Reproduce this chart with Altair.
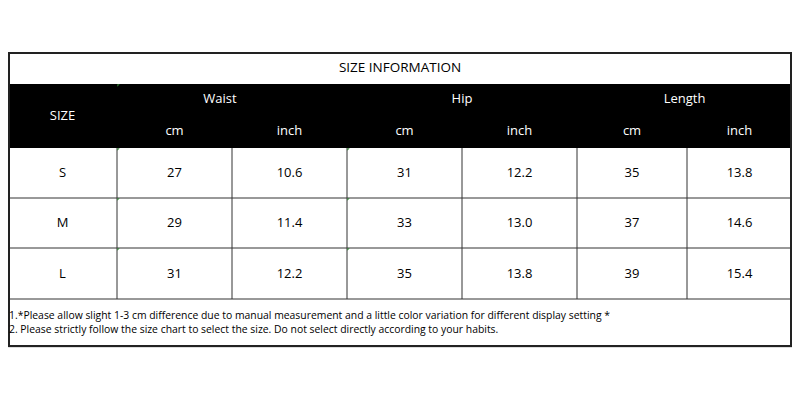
import altair as alt
import pandas as pd

# ---- data ----
sizes = ["S", "M", "L"]
waist_cm = [27, 29, 31]
waist_inch = [10.6, 11.4, 12.2]
hip_cm = [31, 33, 35]
hip_inch = [12.2, 13.0, 13.8]
length_cm = [35, 37, 39]
length_inch = [13.8, 14.6, 15.4]

title_text = "SIZE INFORMATION"
groups = ["Waist", "Hip", "Length"]
units = ["cm", "inch"]
size_label = "SIZE"
notes = [
    "1.*Please allow slight 1-3 cm difference due to manual measurement and a little color variation for different display setting *",
    "2. Please strictly follow the size chart to select the size. Do not select directly according to your habits.",
]

# ---- layout constants (pixels) ----
COL_W = [109, 115, 115, 115, 115, 110, 105]
ROW_H = [32, 64, 50, 50, 51, 48]  # title, header, S, M, L, notes
FONT = "Open Sans"

col_edges = [0]
for w in COL_W:
    col_edges.append(col_edges[-1] + w)
row_edges = [0]
for h in ROW_H:
    row_edges.append(row_edges[-1] + h)
W = col_edges[-1]
H = row_edges[-1]

def cx(c0, c1=None):
    c1 = c0 if c1 is None else c1
    return (col_edges[c0] + col_edges[c1 + 1]) / 2

def cy(r):
    return (row_edges[r] + row_edges[r + 1]) / 2

xs = alt.Scale(domain=[0, W], range=[0, W], nice=False, zero=False)
ys = alt.Scale(domain=[0, H], range=[0, H], nice=False, zero=False)

def X(f="x"):
    return alt.X(f"{f}:Q", scale=xs, axis=None)

def Y(f="y"):
    return alt.Y(f"{f}:Q", scale=ys, axis=None)

# header black band
band = pd.DataFrame([{"x": 0, "x2": W, "y": row_edges[1], "y2": row_edges[2]}])
band_layer = alt.Chart(band).mark_rect(color="black").encode(
    x=X(), x2="x2:Q", y=Y(), y2="y2:Q")

# inner lines
lines = []
for r in [3, 4, 5]:
    lines.append({"x": 0, "x2": W, "y": row_edges[r], "y2": row_edges[r]})
for c in range(1, len(COL_W)):
    lines.append({"x": col_edges[c], "x2": col_edges[c], "y": row_edges[2], "y2": row_edges[5]})
lines_layer = alt.Chart(pd.DataFrame(lines)).mark_rule(color="#333333", strokeWidth=1).encode(
    x=X(), x2="x2:Q", y=Y(), y2="y2:Q")

# outer border
border = pd.DataFrame([{"x": 1, "x2": W - 1, "y": 1, "y2": H - 1}])
border_layer = alt.Chart(border).mark_rect(fill=None, stroke="#222", strokeWidth=2).encode(
    x=X(), x2="x2:Q", y=Y(), y2="y2:Q")

# small green corner ticks
greens = [{"x": col_edges[1] + 1.5, "y": row_edges[1] + 1.5}]
for r in [2, 3, 4]:
    for c in [1, 3]:
        greens.append({"x": col_edges[c] + 1.5, "y": row_edges[r] + 1.5})
green_layer = alt.Chart(pd.DataFrame(greens)).mark_point(
    shape="M-1,-1L1,-1L-1,1Z", filled=True, color="#2f7d32", size=6, opacity=1).encode(x=X(), y=Y())

# texts
texts = []
texts.append({"x": W / 2, "y": cy(0), "t": title_text, "c": "black", "s": 13.5})
header_top = row_edges[1]
for i, g in enumerate(groups):
    gx = cx(1 + 2 * i, 2 + 2 * i) - (12 if i == 0 else 0)
    texts.append({"x": gx, "y": header_top + 15, "t": g, "c": "white", "s": 13})
    for j, u in enumerate(units):
        texts.append({"x": cx(1 + 2 * i + j), "y": header_top + 47, "t": u, "c": "white", "s": 13})
texts.append({"x": cx(0), "y": header_top + 32, "t": size_label, "c": "white", "s": 13})

cols = [waist_cm, waist_inch, hip_cm, hip_inch, length_cm, length_inch]
for r, s in enumerate(sizes):
    texts.append({"x": cx(0), "y": cy(2 + r), "t": s, "c": "black", "s": 13})
    for c, vals in enumerate(cols):
        v = vals[r]
        t = f"{v:.1f}" if c % 2 == 1 else f"{v}"
        texts.append({"x": cx(1 + c), "y": cy(2 + r), "t": t, "c": "black", "s": 13})
text_df = pd.DataFrame(texts)
text_layer = alt.Chart(text_df).mark_text(font=FONT, baseline="middle", align="center").encode(
    x=X(), y=Y(), text="t:N",
    color=alt.Color("c:N", scale=None),
    size=alt.Size("s:Q", scale=None))

note_df = pd.DataFrame([
    {"x": 1, "y": row_edges[5] + 17 + 14 * i, "t": n} for i, n in enumerate(notes)
])
note_layer = alt.Chart(note_df).mark_text(font=FONT, baseline="middle", align="left",
                                          fontSize=10.4, color="black").encode(
    x=X(), y=Y(), text="t:N")

chart = alt.layer(band_layer, lines_layer, border_layer, green_layer, text_layer, note_layer).properties(
    width=W, height=H,
    padding={"left": 0, "top": 44, "right": 0, "bottom": 4},
    autosize=alt.AutoSizeParams(type="none"),
).configure_view(stroke=None).configure(background="white")

chart.save("out.html", embed_options={"renderer": "svg", "actions": False})
